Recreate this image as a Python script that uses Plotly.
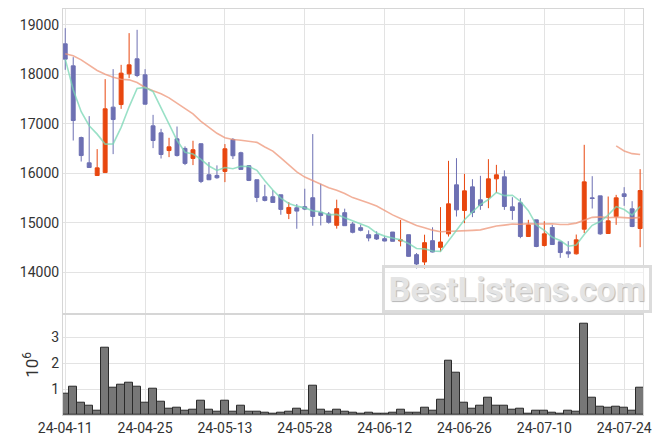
import plotly.graph_objects as go

dates = ["24-04-11","24-04-12","24-04-15","24-04-16","24-04-17","24-04-18","24-04-19","24-04-22","24-04-23","24-04-24",
 "24-04-25","24-04-26","24-04-29","24-04-30","24-05-02","24-05-03","24-05-07","24-05-08","24-05-09","24-05-10",
 "24-05-13","24-05-14","24-05-16","24-05-17","24-05-20","24-05-21","24-05-22","24-05-23","24-05-24","24-05-27",
 "24-05-28","24-05-29","24-05-30","24-05-31","24-06-03","24-06-04","24-06-05","24-06-07","24-06-10","24-06-11",
 "24-06-12","24-06-13","24-06-14","24-06-17","24-06-18","24-06-19","24-06-20","24-06-21","24-06-24","24-06-25",
 "24-06-26","24-06-27","24-06-28","24-07-01","24-07-02","24-07-03","24-07-04","24-07-05","24-07-08","24-07-09",
 "24-07-10","24-07-11","24-07-12","24-07-15","24-07-16","24-07-17","24-07-18","24-07-19","24-07-22","24-07-23",
 "24-07-24","24-07-25","24-07-26"]

open_ = [18616,18171,16721,16210,15953,16013,17336,17388,18009,18313,
 17989,16958,16816,16458,16695,16501,16299,16596,15969,15955,
 16036,16683,16414,16151,15868,15524,15524,15564,15187,15301,
 15322,15504,15207,15175,14946,15202,14973,14899,14757,14757,
 14676,14811,14630,14757,14353,14205,14636,14501,14774,15765,
 15246,15724,15462,15509,15886,15927,15320,15401,14720,15057,
 14538,14902,14612,14410,14370,14868,15502,15542,14781,15124,
 15583,15280,14882]
high = [18933,18347,16740,17154,16487,17902,18104,18191,18832,18899,
 18104,17180,16897,16715,16944,16542,16656,16600,16225,16158,
 16589,16710,16434,16164,15868,15767,15659,15564,15416,15376,
 15686,16791,15787,15216,15465,15283,15013,14960,14845,14825,
 14724,14811,15054,14757,14387,14757,14906,15314,16250,16304,
 15987,15879,15947,16284,16169,16058,15515,15495,15057,15057,
 15030,14956,14612,14626,14760,16574,15940,15542,15529,15562,
 15718,15434,16082]
low = [18090,16661,16236,16110,15950,16010,16386,17301,17922,17942,
 17390,16507,16297,16325,16337,16164,16164,15800,15860,15888,
 15820,16286,16077,15841,15416,15430,15409,15160,15072,14877,
 15254,14938,14944,14980,14879,14939,14784,14825,14623,14650,
 14623,14623,14521,14310,14063,14063,14400,14416,14720,15124,
 14990,15112,15260,15293,15600,15259,15057,14686,14720,14504,
 14518,14558,14289,14289,14356,14790,15286,14754,14781,14956,
 15340,14909,14504]
close = [18306,17065,16357,16115,16108,17302,17085,18023,18191,17975,
 17396,16661,16378,16533,16357,16198,16474,15834,15868,15908,
 16494,16353,16077,15854,15510,15450,15409,15268,15308,15234,
 15274,15126,15146,15007,15283,14939,14805,14845,14690,14670,
 14629,14623,14650,14319,14164,14596,14407,14609,15381,15259,
 15643,15205,15347,15886,15967,15327,15246,14720,14956,14518,
 14774,14558,14396,14370,14653,15825,15488,14774,15037,15502,
 15529,14922,15650]

ma5 = [18306,17686,17243,16961,16790,16589,16593,16927,17342,17715,
 17734,17649,17320,16989,16665,16425,16388,16279,16146,16056,
 16116,16091,16140,16137,16058,15849,15660,15498,15389,15334,
 15299,15242,15218,15157,15167,15100,15036,14976,14912,14790,
 14728,14691,14652,14578,14477,14470,14427,14419,14631,14850,
 15060,15219,15367,15468,15610,15546,15555,15429,15243,14953,
 14843,14705,14640,14523,14550,14760,14946,15022,15155,15325,
 15266,15153,15328]
ma20 = [18414,18373,18292,18191,18077,18002,17942,17901,17888,17834,
 17733,17666,17605,17524,17416,17295,17200,17050,16920,16807,
 16716,16681,16667,16653,16624,16531,16447,16309,16165,16028,
 15922,15845,15784,15707,15654,15591,15507,15458,15399,15337,
 15244,15157,15086,15009,14942,14899,14849,14816,14820,14821,
 14840,14844,14854,14898,14932,14951,14973,14967,14980,14973,
 14980,14977,14964,14966,14991,15052,15108,15117,15099,15112,
 15106,15092,15107]
ma_long = [None]*69 + [16553,16450,16395,16378]

volume_m = [0.83,1.10,0.49,0.37,0.18,2.60,1.06,1.18,1.26,1.10,
 0.49,1.03,0.53,0.26,0.29,0.18,0.22,0.56,0.22,0.14,
 0.56,0.14,0.37,0.14,0.14,0.10,0.06,0.10,0.14,0.26,
 0.18,1.14,0.22,0.14,0.22,0.14,0.10,0.06,0.10,0.06,
 0.06,0.10,0.22,0.10,0.10,0.29,0.15,0.58,2.10,1.62,
 0.49,0.23,0.37,0.68,0.37,0.37,0.19,0.26,0.06,0.18,
 0.18,0.10,0.06,0.18,0.14,3.53,0.68,0.33,0.29,0.33,
 0.29,0.18,1.06]

price_ticks = [14000, 15000, 16000, 17000, 18000, 19000]
price_ticktext = [str(v) for v in price_ticks]
vol_ticks = [1, 2, 3]
x_ticks = dates[::10]

RED = "#e8470f"
BLUE = "#6d70b3"
GRID = "#e3e3e3"
FRAME = "#d6d6d6"

fig = go.Figure()

fig.add_trace(go.Scatter(x=dates, y=ma20, mode="lines",
                         line=dict(color="rgba(238,150,120,0.75)", width=1.6),
                         xaxis="x", yaxis="y", hoverinfo="skip"))
fig.add_trace(go.Scatter(x=dates, y=ma_long, mode="lines",
                         line=dict(color="rgba(238,150,120,0.75)", width=1.6),
                         xaxis="x", yaxis="y", hoverinfo="skip"))
fig.add_trace(go.Scatter(x=dates, y=ma5, mode="lines",
                         line=dict(color="rgba(120,215,180,0.75)", width=1.6),
                         xaxis="x", yaxis="y", hoverinfo="skip"))

fig.add_trace(go.Candlestick(x=dates, open=open_, high=high, low=low, close=close,
                             increasing=dict(line=dict(color=RED, width=1), fillcolor=RED),
                             decreasing=dict(line=dict(color=BLUE, width=1), fillcolor=BLUE),
                             whiskerwidth=0, xaxis="x", yaxis="y"))

fig.add_trace(go.Bar(x=dates, y=volume_m, marker=dict(color="#777777", line=dict(color="#2a2a2a", width=1)),
                     xaxis="x2", yaxis="y2"))

axis_common = dict(showgrid=True, gridcolor=GRID, gridwidth=1, showline=True, linecolor=FRAME,
                   linewidth=1, mirror=True, zeroline=False, ticks="", automargin=False)

fig.update_layout(
    width=663, height=444,
    margin=dict(l=55, r=28, t=1, b=37, autoexpand=False),
    paper_bgcolor="white", plot_bgcolor="white",
    showlegend=False,
    bargap=0,
    font=dict(family="Roboto", size=14, color="#333333"),
    xaxis=dict(type="category", domain=[0, 1], anchor="y", range=[-0.28, 72.36],
               tickvals=x_ticks, showticklabels=False, rangeslider=dict(visible=False),
               **axis_common),
    yaxis=dict(domain=[0.252, 1], anchor="x", range=[13180, 19320], tickvals=price_ticks,
               ticktext=price_ticktext, **axis_common),
    xaxis2=dict(type="category", domain=[0, 1], anchor="y2", range=[-0.28, 72.36],
                tickvals=x_ticks, ticktext=x_ticks, matches="x", **axis_common),
    yaxis2=dict(domain=[0, 0.247], anchor="x2", range=[0, 3.88], tickvals=vol_ticks,
                title=dict(text="10<sup>6</sup>", standoff=8), **axis_common),
)

fig.add_annotation(
    text="BestListens.com", xref="paper", yref="paper", x=0.782, y=0.31,
    xanchor="center", yanchor="middle", showarrow=False,
    font=dict(family="Roboto", size=34, color="#e4e4e4", weight="bold", shadow="1px 1px 1px #b5b5b5"),
    bordercolor="#dcdcdc", borderwidth=3, borderpad=0, bgcolor="rgba(255,255,255,0.55)",
    width=264, height=42,
)

fig.write_html("out.html")
